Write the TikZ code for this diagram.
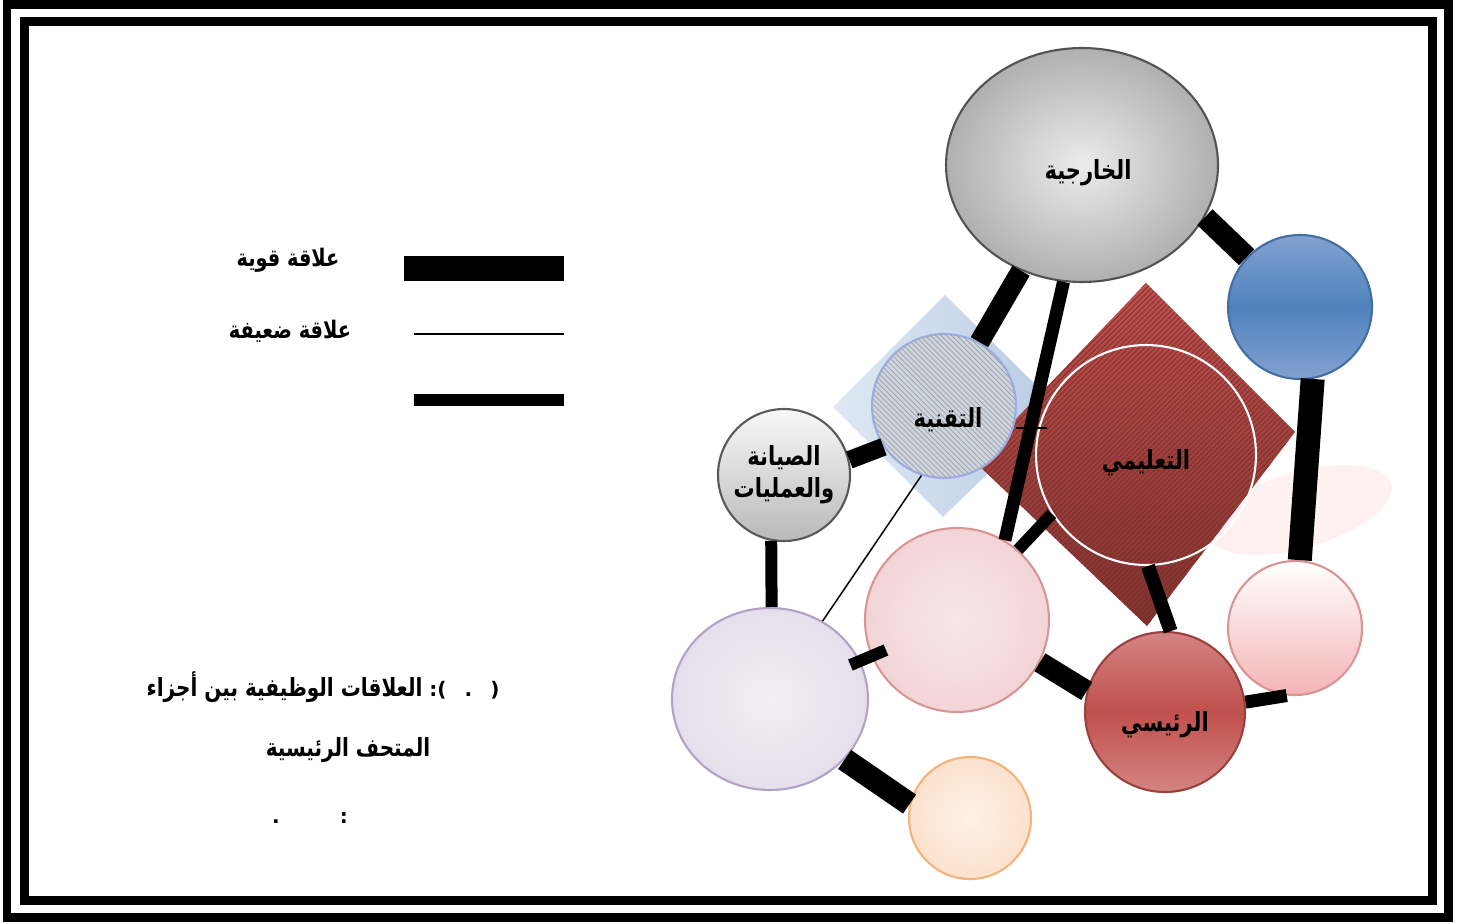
\documentclass[tikz,border=0pt]{standalone}
\usepackage{fontspec}
\newfontfamily\arabicfont[Script=Arabic]{DejaVu Sans}
\newfontfamily\punctfont{DejaVu Sans}
\TeXXeTstate=1
\usepackage{tikz}
\usetikzlibrary{patterns,shapes.geometric,calc}
\definecolor{bluedark}{RGB}{79,129,189}
\definecolor{bluelite}{RGB}{130,162,208}
\definecolor{bluepale}{RGB}{184,204,228}
\definecolor{redmid}{RGB}{192,80,77}
\definecolor{redbrick}{RGB}{170,66,62}
\definecolor{pinkline}{RGB}{217,149,148}
\definecolor{pinkfill}{RGB}{242,212,214}
\definecolor{lavfill}{RGB}{229,223,236}
\definecolor{lavline}{RGB}{179,162,199}
\definecolor{orgfill}{RGB}{252,226,206}
\definecolor{orgline}{RGB}{247,178,121}
\newcommand{\artext}[1]{\scalebox{1}[1.25]{\arabicfont\bfseries\beginR #1\endR}}
\tikzset{bubble/.style={circle, inner sep=0pt, minimum size=#1, very thick},
         oval/.style={ellipse, inner sep=0pt, very thick},
         artxt/.style={font=\fontsize{11}{13}\selectfont},
         intxt/.style={font=\fontsize{12}{14}\selectfont},
         captxt/.style={font=\fontsize{11.4}{14}\selectfont}}

\begin{document}
\begin{tikzpicture}[x=0.02cm,y=-0.02cm]
\useasboundingbox (0,0) rectangle (1473,923);
% double frame
\draw[line width=1.8mm] (7,4) rectangle (1448.5,917.5);
\draw[line width=1.8mm] (24.5,21.5) rectangle (1432,900);

% legend
\fill (404,256) rectangle (564,281);
\draw[line width=0.3mm] (414,334) -- (564,334);
\fill (414,394) rectangle (564,406);
\node[artxt] (strong) at (288,260) {\artext{علاقة قوية}};
\node[artxt] (weak) at (290,331) {\artext{علاقة ضعيفة}};

% caption
\node[captxt] (cap1) at (323,687) {\artext{العلاقات الوظيفية بين أجزاء}{\punctfont\bfseries\ :(\hspace{0.9em}.\hspace{0.9em})}};
\node[captxt] (cap2) at (348,750) {\artext{المتحف الرئيسية}};
\node[captxt] (cap3) at (310,818) {\punctfont\bfseries .\hspace{1.2cm}:};

% shadow and diamonds
\fill[red!8, opacity=0.7, rotate around={16:(1300,510)}] (1300,510) ellipse [x radius=95, y radius=38];
\shade[left color=bluepale!45, right color=bluepale] (945,295) -- (1057,406) -- (943,517) -- (833,407) -- cycle;
\shade[top color=redmid, bottom color=redbrick!75!black, postaction={pattern=north east lines, pattern color=redbrick!70!black}]
  (1146,283) -- (1295,432) -- (1147,626) -- (975,462) -- cycle;

% circles
\node[oval, minimum width=5.44cm, minimum height=4.68cm, draw=gray!65!black, inner color=gray!15, outer color=gray!62,
      label={[intxt, xshift=0.12cm, yshift=-0.16cm]center:\artext{الخارجية}}] (khar) at (1082,165) {};
\node[bubble=2.88cm, draw=bluedark!85!black, top color=bluelite, bottom color=bluelite, middle color=bluedark] (blue) at (1300,307) {};
\node[bubble=2.88cm, draw=bluepale!85!blue, fill=bluepale!75!gray!60, postaction={pattern=north west lines, pattern color=gray!75},
      label={[intxt, xshift=0.08cm, yshift=-0.28cm]center:\artext{التقنية}}] (tech) at (944,406) {};
\node[bubble=2.64cm, draw=gray!70!black, top color=gray!5, bottom color=gray!55, align=center, intxt] (maint) at (784,475)
      {\artext{الصيانة}\\[4pt]\artext{والعمليات}};
\node[bubble=4.4cm, draw=white, label={[intxt, yshift=-0.16cm]center:\artext{التعليمي}}] (edu) at (1146,455) {};
\node[bubble=3.68cm, draw=pinkline, inner color=pinkfill!55, outer color=pinkfill] (pinkc) at (957,620) {};
\node[oval, minimum width=3.92cm, minimum height=3.64cm, draw=lavline, inner color=lavfill!50, outer color=lavfill] (lav) at (770,699) {};
\node[bubble=2.44cm, draw=orgline, inner color=orgfill!50, outer color=orgfill] (org) at (970,818) {};
\node[bubble=3.2cm, draw=redmid!80!black, top color=redmid!70, bottom color=redmid!70, middle color=redmid,
      label={[intxt, yshift=-0.26cm]center:\artext{الرئيسي}}] (main) at (1165,712) {};
\node[bubble=2.68cm, draw=pinkline, top color=white, bottom color=pinkfill!85!red] (rose) at (1295,628) {};

% relations
\foreach \a/\b/\w in {khar.-120/tech.61/4mm, khar.-99/pinkc.59/2.6mm, khar.-23/blue.137/4.4mm,
                      blue.-80/rose.86/4.8mm, tech.214/maint.13/3.6mm, maint.259/lav.89/2.4mm,
                      lav.-39/org.167/4.6mm, pinkc.49/edu.212/2.4mm, pinkc.-27/main.165/4.2mm,
                      edu.-89/main.86/2.8mm, main.7/rose.-97/2.6mm}
  \draw[line width=\w] (\a) -- (\b);
\draw[line width=2.4mm] ($(lav)!0.43!(pinkc)$) -- ($(lav)!0.62!(pinkc)$);
\draw[line width=0.3mm] (tech.-108) -- (lav.56);
\draw[line width=0.4mm] (1016,428) -- (1047,428);
\end{tikzpicture}
\end{document}
